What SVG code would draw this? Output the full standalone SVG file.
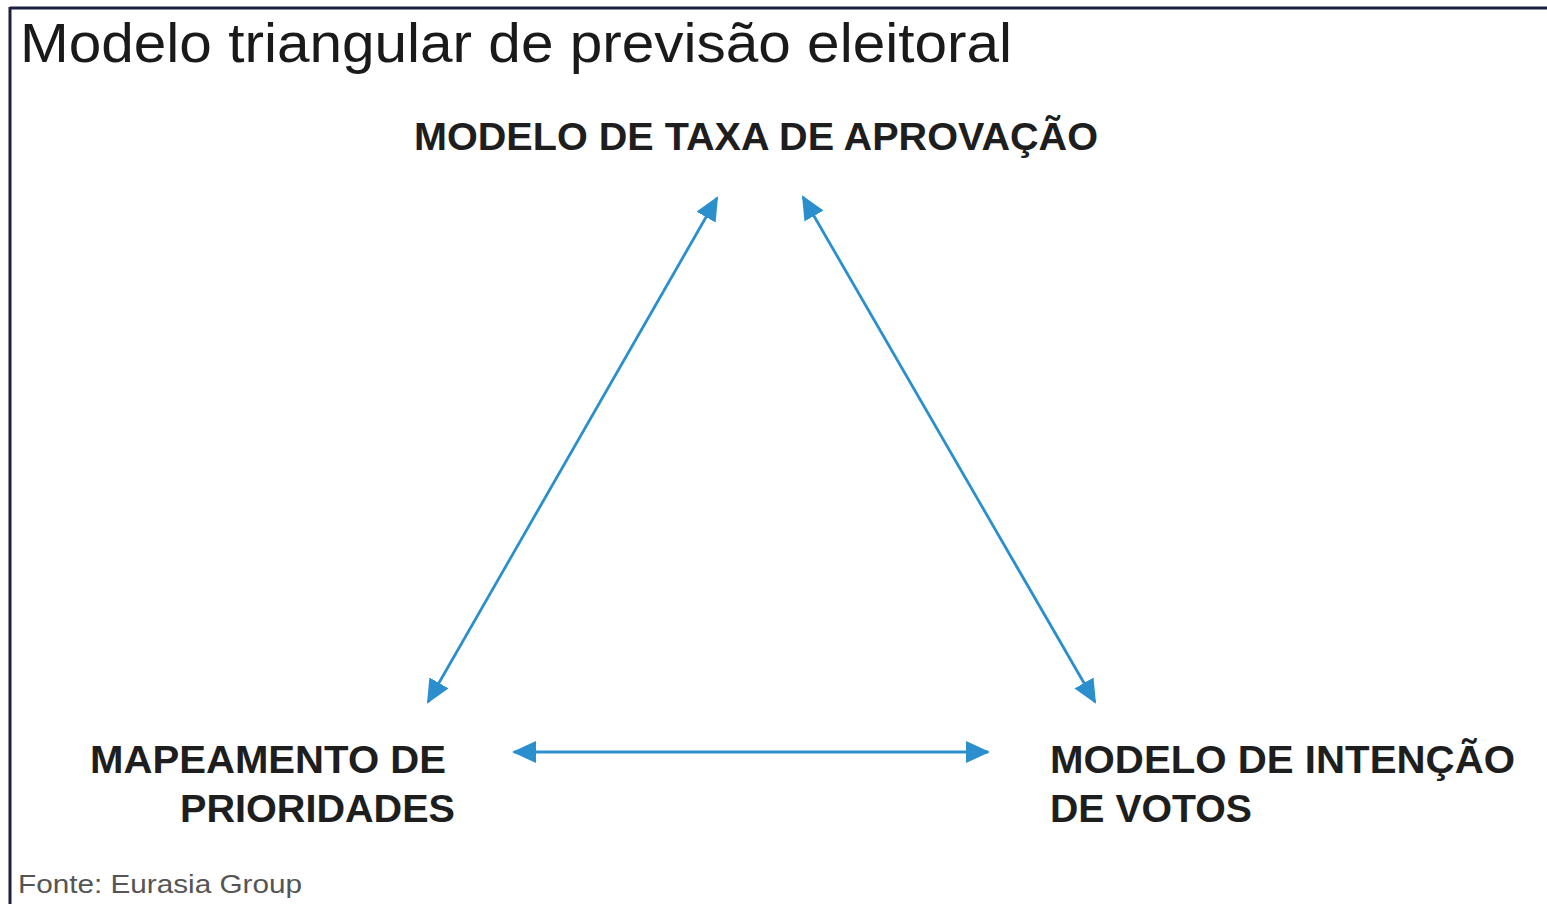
<svg xmlns="http://www.w3.org/2000/svg" width="1547" height="904" viewBox="0 0 1547 904">
<style>
.t{font-family:"Liberation Sans",Arial,sans-serif;fill:#1a1a1a}
.lbl{font-family:"Liberation Sans",Arial,sans-serif;font-weight:bold;font-size:38px;fill:#1e1e1e}
.c{stroke:#2a8fcc;stroke-width:2.8;fill:none}
</style>
<defs>
<marker id="a" viewBox="0 0 24 22" refX="22" refY="11" markerWidth="24" markerHeight="22" markerUnits="userSpaceOnUse" orient="auto-start-reverse">
<path d="M0,0 L24,11 L0,22 Z" fill="#2a8fcc"/>
</marker>
</defs>
<rect width="1547" height="904" fill="#ffffff"/>
<line x1="10" y1="8" x2="1547" y2="8" stroke="#1c2140" stroke-width="3"/>
<line x1="10" y1="7" x2="10" y2="904" stroke="#1c2140" stroke-width="3"/>
<text class="t" x="20" y="62" font-size="56" textLength="992" lengthAdjust="spacingAndGlyphs">Modelo triangular de previsão eleitoral</text>
<g id="connectors">
<line class="c" x1="717" y1="198" x2="428" y2="702" marker-start="url(#a)" marker-end="url(#a)"/>
<line class="c" x1="803" y1="197" x2="1095" y2="702" marker-start="url(#a)" marker-end="url(#a)"/>
<line class="c" x1="514" y1="752" x2="988" y2="752" marker-start="url(#a)" marker-end="url(#a)"/>
</g>
<g id="node-top">
<text class="lbl" x="414" y="150" textLength="684" lengthAdjust="spacingAndGlyphs">MODELO DE TAXA DE APROVAÇÃO</text>
</g>
<g id="node-left">
<text class="lbl" x="90" y="773" textLength="356" lengthAdjust="spacingAndGlyphs">MAPEAMENTO DE</text>
<text class="lbl" x="180" y="822" textLength="275" lengthAdjust="spacingAndGlyphs">PRIORIDADES</text>
</g>
<g id="node-right">
<text class="lbl" x="1050" y="773" textLength="465" lengthAdjust="spacingAndGlyphs">MODELO DE INTENÇÃO</text>
<text class="lbl" x="1050" y="822" textLength="202" lengthAdjust="spacingAndGlyphs">DE VOTOS</text>
</g>
<text x="18" y="893" font-family="'Liberation Sans',Arial,sans-serif" font-size="26" fill="#555" textLength="284" lengthAdjust="spacingAndGlyphs">Fonte: Eurasia Group</text>
</svg>
